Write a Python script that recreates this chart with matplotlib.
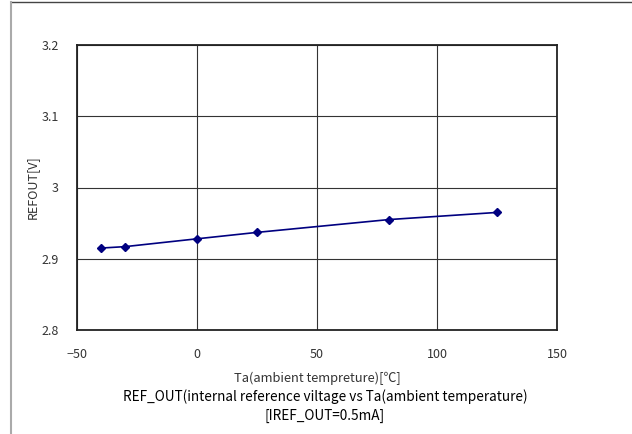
import matplotlib.pyplot as plt
from matplotlib.lines import Line2D

plt.rcParams['font.family'] = ['Noto Sans CJK JP', 'DejaVu Sans']

# Data
temp = [-40, -30, 0, 25, 80, 125]
refout = [2.915, 2.917, 2.928, 2.937, 2.955, 2.965]

x_ticks = [-50, 0, 50, 100, 150]
y_ticks = [2.8, 2.9, 3.0, 3.1, 3.2]
y_labels = ['2.8', '2.9', '3', '3.1', '3.2']

fig = plt.figure(figsize=(6.32, 4.34), dpi=100)
ax = fig.add_axes([77 / 632, 1 - 330 / 434, 480 / 632, 285 / 434])

ax.plot(temp, refout, color='#000080', marker='D', markersize=4, linewidth=1.2)

ax.set_xlim(-50, 150)
ax.set_ylim(2.8, 3.2)
ax.set_xticks(x_ticks)
ax.set_yticks(y_ticks)
ax.set_xticklabels(['\u221250', '0', '50', '100', '150'])
ax.set_yticklabels(y_labels)
ax.tick_params(length=0, labelsize=9, colors='#333333')
ax.tick_params(axis='y', pad=13)
ax.tick_params(axis='x', pad=13)
ax.grid(True, color='#333333', linewidth=0.8)
for s in ax.spines.values():
    s.set_linewidth(1.3)
    s.set_color('#222222')

ax.set_ylabel('REFOUT[V]', fontsize=9, color='#333333', labelpad=2)

fig.text(317 / 632, 1 - 378 / 434, 'Ta(ambient tempreture)[\u2103]', ha='center', va='center',
         fontsize=9.3, color='#333333')
fig.text(325 / 632, 1 - 397 / 434, 'REF_OUT(internal reference viltage vs Ta(ambient temperature)',
         ha='center', va='center', fontsize=9.8, color='black')
fig.text(325 / 632, 1 - 416 / 434, '[IREF_OUT=0.5mA]', ha='center', va='center',
         fontsize=9.8, color='black')

# frame lines at top and left of the picture
fig.add_artist(Line2D([11 / 632, 1], [1 - 1.5 / 434, 1 - 1.5 / 434], color='#444444', linewidth=1))
fig.add_artist(Line2D([11 / 632, 11 / 632], [0, 1 - 1.5 / 434], color='#aaaaaa', linewidth=1.5))

fig.savefig('out.png', dpi=100)
